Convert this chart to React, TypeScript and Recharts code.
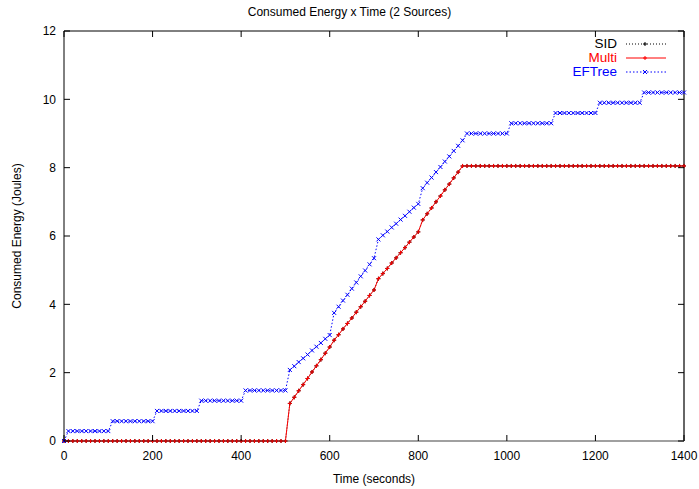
import { LineChart, Line, XAxis, YAxis, Legend, ReferenceLine } from "recharts";

const FONT = "'Liberation Sans', Arial, Helvetica, sans-serif";

// ── Data ────────────────────────────────────────────────────────────────────

const timeTicks = [0, 200, 400, 600, 800, 1000, 1200, 1400];
const energyTicks = [0, 2, 4, 6, 8, 10, 12];

const seconds = [
    0, 10, 20, 30, 40, 50, 60, 70, 80, 90,
    100, 110, 120, 130, 140, 150, 160, 170, 180, 190,
    200, 210, 220, 230, 240, 250, 260, 270, 280, 290,
    300, 310, 320, 330, 340, 350, 360, 370, 380, 390,
    400, 410, 420, 430, 440, 450, 460, 470, 480, 490,
    500, 510, 520, 530, 540, 550, 560, 570, 580, 590,
    600, 610, 620, 630, 640, 650, 660, 670, 680, 690,
    700, 710, 720, 730, 740, 750, 760, 770, 780, 790,
    800, 810, 820, 830, 840, 850, 860, 870, 880, 890,
    900, 910, 920, 930, 940, 950, 960, 970, 980, 990,
    1000, 1010, 1020, 1030, 1040, 1050, 1060, 1070, 1080, 1090,
    1100, 1110, 1120, 1130, 1140, 1150, 1160, 1170, 1180, 1190,
    1200, 1210, 1220, 1230, 1240, 1250, 1260, 1270, 1280, 1290,
    1300, 1310, 1320, 1330, 1340, 1350, 1360, 1370, 1380, 1390,
    1400,
];

const multiEnergy = [
    0, 0, 0, 0, 0, 0, 0, 0, 0, 0,
    0, 0, 0, 0, 0, 0, 0, 0, 0, 0,
    0, 0, 0, 0, 0, 0, 0, 0, 0, 0,
    0, 0, 0, 0, 0, 0, 0, 0, 0, 0,
    0, 0, 0, 0, 0, 0, 0, 0, 0, 0,
    0, 1.10, 1.28, 1.47, 1.65, 1.83, 2.02, 2.20, 2.38, 2.57,
    2.75, 2.95, 3.11, 3.28, 3.44, 3.60, 3.77, 3.93, 4.09, 4.26,
    4.42, 4.75, 4.90, 5.05, 5.21, 5.36, 5.51, 5.66, 5.82, 5.97,
    6.12, 6.47, 6.65, 6.82, 7.00, 7.17, 7.35, 7.52, 7.70, 7.87,
    8.05, 8.05, 8.05, 8.05, 8.05, 8.05, 8.05, 8.05, 8.05, 8.05,
    8.05, 8.05, 8.05, 8.05, 8.05, 8.05, 8.05, 8.05, 8.05, 8.05,
    8.05, 8.05, 8.05, 8.05, 8.05, 8.05, 8.05, 8.05, 8.05, 8.05,
    8.05, 8.05, 8.05, 8.05, 8.05, 8.05, 8.05, 8.05, 8.05, 8.05,
    8.05, 8.05, 8.05, 8.05, 8.05, 8.05, 8.05, 8.05, 8.05, 8.05,
    8.05,
];

// SID sits exactly under Multi in the picture
const sidEnergy = multiEnergy;

const efTreeEnergy = [
    0, 0.29, 0.29, 0.29, 0.29, 0.29, 0.29, 0.29, 0.29, 0.29,
    0.29, 0.58, 0.58, 0.58, 0.58, 0.58, 0.58, 0.58, 0.58, 0.58,
    0.58, 0.88, 0.88, 0.88, 0.88, 0.88, 0.88, 0.88, 0.88, 0.88,
    0.88, 1.18, 1.18, 1.18, 1.18, 1.18, 1.18, 1.18, 1.18, 1.18,
    1.18, 1.48, 1.48, 1.48, 1.48, 1.48, 1.48, 1.48, 1.48, 1.48,
    1.48, 2.08, 2.19, 2.31, 2.42, 2.53, 2.65, 2.76, 2.87, 2.99,
    3.10, 3.75, 3.93, 4.11, 4.28, 4.46, 4.64, 4.82, 4.99, 5.17,
    5.35, 5.90, 6.02, 6.13, 6.25, 6.36, 6.48, 6.59, 6.71, 6.83,
    6.94, 7.40, 7.56, 7.71, 7.87, 8.02, 8.18, 8.33, 8.49, 8.64,
    8.80, 9.00, 9.00, 9.00, 9.00, 9.00, 9.00, 9.00, 9.00, 9.00,
    9.00, 9.30, 9.30, 9.30, 9.30, 9.30, 9.30, 9.30, 9.30, 9.30,
    9.30, 9.60, 9.60, 9.60, 9.60, 9.60, 9.60, 9.60, 9.60, 9.60,
    9.60, 9.90, 9.90, 9.90, 9.90, 9.90, 9.90, 9.90, 9.90, 9.90,
    9.90, 10.20, 10.20, 10.20, 10.20, 10.20, 10.20, 10.20, 10.20, 10.20,
    10.20,
];

const data = seconds.map((t, i) => ({
    t,
    sid: sidEnergy[i],
    multi: multiEnergy[i],
    eftree: efTreeEnergy[i],
}));

// ── Layout ──────────────────────────────────────────────────────────────────

const W = 699;
const H = 489;
const MARGIN = { top: 31, right: 15, bottom: 0, left: 0 };
const PLOT_TOP = MARGIN.top;
const PLOT_RIGHT = W - MARGIN.right;
const TICK_LEN = 6;

// gnuplot style: ticks point inwards and are mirrored on top / right
function BottomTick({ x, y, payload }: any) {
    const axisY = y - 10;
    return (
        <g>
            <line x1={x} x2={x} y1={axisY} y2={axisY - TICK_LEN} stroke="#000" />
            <line x1={x} x2={x} y1={PLOT_TOP} y2={PLOT_TOP + TICK_LEN} stroke="#000" />
            <text x={x} y={y} dy="0.71em" textAnchor="middle" fontSize={12} fill="#000" fontFamily={FONT}>
                {payload.value}
            </text>
        </g>
    );
}

function LeftTick({ x, y, payload }: any) {
    const axisX = x + 8;
    return (
        <g>
            <line x1={axisX} x2={axisX + TICK_LEN} y1={y} y2={y} stroke="#000" />
            <line x1={PLOT_RIGHT} x2={PLOT_RIGHT - TICK_LEN} y1={y} y2={y} stroke="#000" />
            <text x={x} y={y} dy="0.355em" textAnchor="end" fontSize={12} fill="#000" fontFamily={FONT}>
                {payload.value}
            </text>
        </g>
    );
}

const plusDot = (color: string) => (p: any) => {
    const { cx, cy, index, dataKey } = p;
    if (cx == null || cy == null) return <g key={`${dataKey}-${index}`} />;
    return (
        <path
            key={`${dataKey}-${index}`}
            d={`M${cx - 2},${cy}h4M${cx},${cy - 2}v4`}
            stroke={color}
            strokeWidth={1}
            fill="none"
        />
    );
};

const crossDot = (color: string) => (p: any) => {
    const { cx, cy, index, dataKey } = p;
    if (cx == null || cy == null) return <g key={`${dataKey}-${index}`} />;
    return (
        <path
            key={`${dataKey}-${index}`}
            d={`M${cx - 2},${cy - 2}l4,4M${cx - 2},${cy + 2}l4,-4`}
            stroke={color}
            strokeWidth={1}
            fill="none"
        />
    );
};

const series = [
    { key: "sid", name: "SID", color: "#000000", dash: "1 2", marker: "plus" },
    { key: "multi", name: "Multi", color: "#ff0000", dash: undefined, marker: "plus" },
    { key: "eftree", name: "EFTree", color: "#0000ff", dash: "1.5 2", marker: "cross" },
];

function GnuplotLegend() {
    return (
        <div style={{ fontFamily: FONT, fontSize: 13.5, lineHeight: "14px" }}>
            {series.map((s) => (
                <div
                    key={s.key}
                    style={{ display: "flex", alignItems: "center", justifyContent: "flex-end", height: 14 }}
                >
                    <span style={{ color: s.color }}>{s.name}</span>
                    <svg width={40} height={8} style={{ marginLeft: 9, display: "block" }}>
                        <line x1={0} x2={40} y1={4} y2={4} stroke={s.color} strokeDasharray={s.dash} />
                        {s.marker === "plus" ? (
                            <path d="M17,4h4M19,2v4" stroke={s.color} fill="none" />
                        ) : (
                            <path d="M17,2l4,4M17,6l4,-4" stroke={s.color} fill="none" />
                        )}
                    </svg>
                </div>
            ))}
        </div>
    );
}

export default function App() {
    return (
        <div style={{ position: "absolute", left: 0, top: 0, width: W, height: H, background: "#fff" }}>
            <div
                style={{
                    position: "absolute",
                    top: 5,
                    left: 0,
                    width: W,
                    textAlign: "center",
                    fontFamily: FONT,
                    fontSize: 12,
                    lineHeight: "14px",
                    color: "#000",
                    zIndex: 1,
                }}
            >
                Consumed Energy x Time (2 Sources)
            </div>
            <LineChart width={W} height={H} data={data} margin={MARGIN}>
                <XAxis
                    dataKey="t"
                    type="number"
                    domain={[0, 1400]}
                    ticks={timeTicks}
                    interval={0}
                    height={48}
                    tickLine={false}
                    tickSize={0}
                    tickMargin={10}
                    tick={<BottomTick />}
                    axisLine={{ stroke: "#808080", strokeWidth: 1.5 }}
                    label={{
                        value: "Time (seconds)",
                        position: "insideBottom",
                        offset: 6,
                        style: { fontSize: 12, fill: "#000", fontFamily: FONT },
                    }}
                />
                <YAxis
                    type="number"
                    domain={[0, 12]}
                    ticks={energyTicks}
                    interval={0}
                    width={64}
                    tickLine={false}
                    tickSize={0}
                    tickMargin={8}
                    tick={<LeftTick />}
                    axisLine={{ stroke: "#000" }}
                    label={{
                        value: "Consumed Energy (Joules)",
                        angle: -90,
                        position: "insideLeft",
                        offset: 17,
                        style: { fontSize: 12, fill: "#000", fontFamily: FONT, textAnchor: "middle" },
                    }}
                />
                <ReferenceLine y={12} stroke="#000" />
                <ReferenceLine x={1400} stroke="#333" strokeWidth={1.5} />
                <Legend
                    layout="vertical"
                    align="center"
                    verticalAlign="middle"
                    wrapperStyle={{ top: 37, left: 526, width: 140 }}
                    content={<GnuplotLegend />}
                />
                <Line
                    dataKey="sid"
                    name="SID"
                    type="linear"
                    stroke="#000"
                    strokeWidth={1}
                    strokeDasharray="1 2"
                    dot={plusDot("#000")}
                    activeDot={false}
                    isAnimationActive={false}
                />
                <Line
                    dataKey="multi"
                    name="Multi"
                    type="linear"
                    stroke="#ff0000"
                    strokeWidth={1}
                    dot={plusDot("#ff0000")}
                    activeDot={false}
                    isAnimationActive={false}
                />
                <Line
                    dataKey="eftree"
                    name="EFTree"
                    type="linear"
                    stroke="#0000ff"
                    strokeWidth={1}
                    strokeDasharray="1.5 2"
                    dot={crossDot("#0000ff")}
                    activeDot={false}
                    isAnimationActive={false}
                />
            </LineChart>
        </div>
    );
}
